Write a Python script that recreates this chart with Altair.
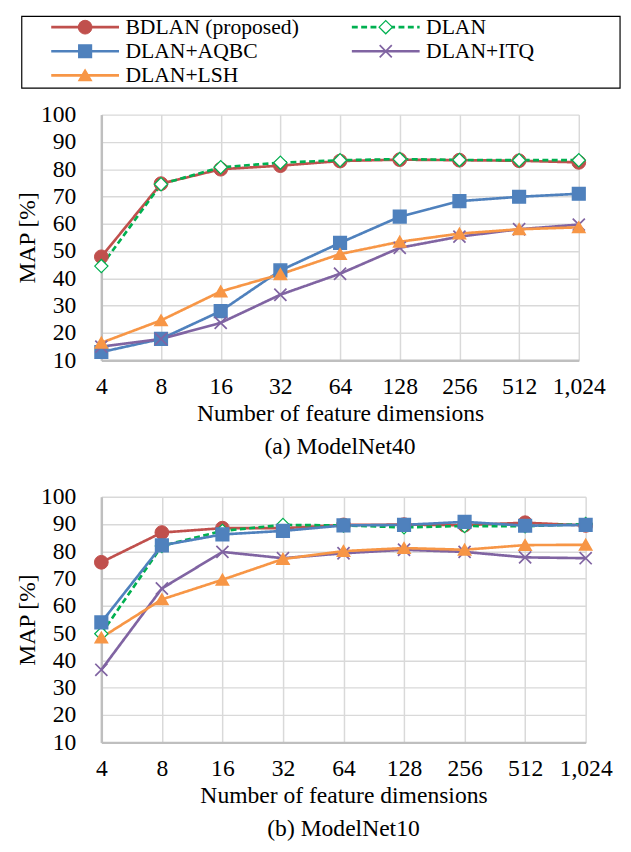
import altair as alt
import pandas as pd

dims = ["4", "8", "16", "32", "64", "128", "256", "512", "1,024"]
series = ["BDLAN (proposed)", "DLAN", "DLAN+AQBC", "DLAN+ITQ", "DLAN+LSH"]
colors = ["#C0504D", "#00B050", "#4F81BD", "#8064A2", "#F79646"]
fills = ["#C0504D", "#FFFFFF", "#4F81BD", "#8064A2", "#F79646"]
shapes = ["circle", "diamond", "square", "M-1,-1L1,1M-1,1L1,-1", "triangle-up"]
sizes = [196, 137, 150, 169, 196]
swidths = [1, 2, 1, 2.2, 1]
dashes = [[1, 0], [6, 3.5], [1, 0], [1, 0], [1, 0]]
leg_col = [0, 1, 0, 1, 0]
leg_row = [0, 0, 1, 1, 2]

# (a) ModelNet40
m40_bdlan = [47.9, 74.7, 80.0, 81.3, 83.0, 83.5, 83.3, 83.1, 82.5]
m40_dlan = [44.5, 74.5, 80.7, 82.4, 83.3, 83.7, 83.4, 83.3, 83.3]
m40_aqbc = [13.0, 17.8, 28.0, 42.9, 53.0, 62.6, 68.3, 69.9, 71.0]
m40_itq = [15.0, 17.8, 23.7, 34.0, 41.7, 51.2, 55.3, 58.0, 59.7]
m40_lsh = [16.4, 24.6, 35.2, 41.5, 48.9, 53.4, 56.4, 58.0, 58.7]

# (b) ModelNet10
m10_bdlan = [76.0, 86.9, 88.5, 88.5, 89.7, 89.8, 89.6, 90.5, 89.5]
m10_dlan = [49.8, 82.0, 87.5, 89.7, 89.5, 88.8, 89.3, 89.2, 90.0]
m10_aqbc = [54.0, 82.2, 86.2, 87.5, 89.5, 89.7, 90.8, 89.4, 89.7]
m10_itq = [36.6, 66.4, 79.8, 77.5, 79.3, 80.6, 79.8, 77.8, 77.5]
m10_lsh = [48.4, 62.4, 69.6, 77.2, 80.1, 81.2, 80.6, 82.3, 82.4]

FONT = "Liberation Serif"
FS = 24
LFS = 22
LW = 2.7


def long_df(vals):
    rows = []
    for s, v in zip(series, vals):
        for d, y in zip(dims, v):
            rows.append({"series": s, "dim": d, "value": y})
    return pd.DataFrame(rows)


stroke_enc = alt.Stroke("series:N", scale=alt.Scale(domain=series, range=colors), legend=None)
fill_enc = alt.Fill("series:N", scale=alt.Scale(domain=series, range=fills), legend=None)
shape_enc = alt.Shape("series:N", scale=alt.Scale(domain=series, range=shapes), legend=None)
size_enc = alt.Size("series:N", scale=alt.Scale(domain=series, range=sizes), legend=None)
sw_enc = alt.StrokeWidth("series:N", scale=alt.Scale(domain=series, range=swidths), legend=None)
dash_enc = alt.StrokeDash("series:N", scale=alt.Scale(domain=series, range=dashes), legend=None)


def panel(vals, width, caption):
    df = long_df(vals)
    df["sidx"] = df["series"].map({s: i for i, s in enumerate(series)})
    x_enc = alt.X(
        "dim:N",
        sort=dims,
        scale=alt.Scale(type="point", padding=0),
        axis=alt.Axis(title="Number of feature dimensions", labelAngle=0, labelPadding=15,
                      titlePadding=3, grid=True),
    )
    y_enc = alt.Y(
        "value:Q",
        scale=alt.Scale(domain=[10, 100], nice=False, zero=False),
        axis=alt.Axis(title="MAP [%]", values=list(range(10, 101, 10)), labelPadding=26,
                      titlePadding=1, grid=True),
    )
    base = alt.Chart(df)
    lines = base.mark_line(strokeWidth=LW).encode(
        x=x_enc, y=y_enc, stroke=stroke_enc, strokeDash=dash_enc, detail="series:N", order="sidx:Q"
    )
    pts = base.mark_point(filled=True, opacity=1).encode(
        x=x_enc, y=y_enc,
        stroke=stroke_enc, fill=fill_enc, shape=shape_enc, size=size_enc, strokeWidth=sw_enc,
        order=alt.Order("sidx:Q"),
    )
    return alt.layer(lines, pts).properties(
        width=width, height=250,
        title=alt.TitleParams(caption, orient="bottom", font=FONT, fontSize=FS,
                              fontWeight="normal", color="black", offset=10),
    )


top_panel = panel([m40_bdlan, m40_dlan, m40_aqbc, m40_itq, m40_lsh], 486, "(a) ModelNet40")
bottom_panel = panel([m10_bdlan, m10_dlan, m10_aqbc, m10_itq, m10_lsh], 493, "(b) ModelNet10")

# legend drawn as marks above the top panel
leg_df = pd.DataFrame({"series": series, "col": leg_col, "row": leg_row})
lx = alt.X("col:Q", scale=alt.Scale(domain=[0, 1], range=[-16.5, 289.5]), axis=None)
ly = alt.Y("row:Q", scale=alt.Scale(domain=[0, 2], range=[-89, -40]), axis=None)
leg_base = alt.Chart(leg_df)
leg_lines = leg_base.mark_point(shape="M-1,0L1,0", size=4761, filled=False, opacity=1, strokeWidth=LW).encode(
    x=lx, y=ly, stroke=stroke_enc, strokeDash=dash_enc
)
leg_pts = leg_base.mark_point(filled=True, opacity=1).encode(
    x=lx, y=ly, stroke=stroke_enc, fill=fill_enc, shape=shape_enc, size=size_enc, strokeWidth=sw_enc
)
leg_text = leg_base.mark_text(align="left", baseline="middle", dx=41, font=FONT, fontSize=LFS, color="black").encode(
    x=lx, y=ly, text="series:N"
)
box = alt.Chart(pd.DataFrame({"k": [0]})).mark_rect(fillOpacity=0, stroke="black", strokeWidth=1.2).encode(
    x=alt.value(-81), x2=alt.value(528), y=alt.value(-100), y2=alt.value(-27)
)
legend_layer = alt.layer(box, leg_lines, leg_pts, leg_text)

top = alt.layer(top_panel, legend_layer).resolve_scale(x="independent", y="independent")

chart = alt.vconcat(top, bottom_panel, spacing=27).properties(
    padding={"left": 8, "top": 0, "right": 2, "bottom": 2},
    background="white",
).configure_view(strokeWidth=0).configure_axis(
    labelFont=FONT, labelFontSize=FS, titleFont=FONT, titleFontSize=FS, titleFontWeight="normal",
    labelColor="black", titleColor="black", gridColor="#d9d9d9", gridWidth=1.5,
    domainColor="#bfbfbf", domainWidth=2.5, ticks=False,
)

chart.save("out.html", embed_options={"renderer": "svg", "actions": False})
